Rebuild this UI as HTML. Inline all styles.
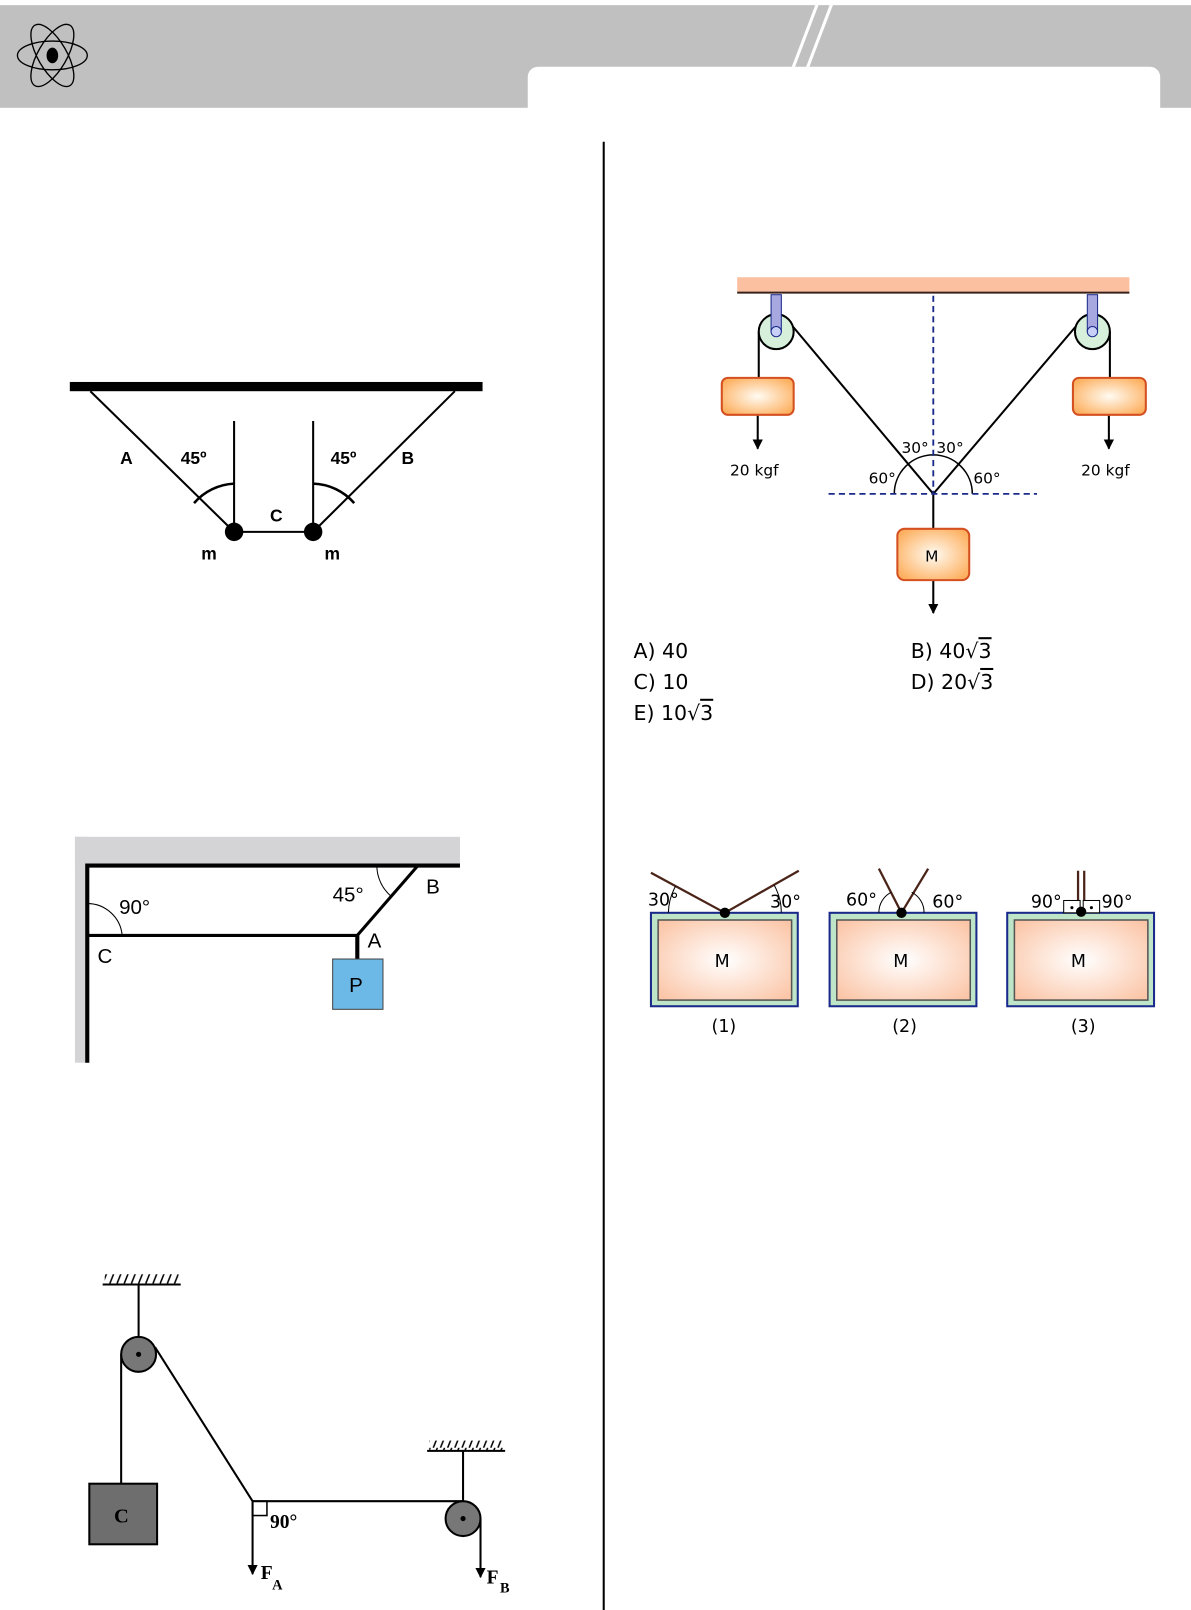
<!DOCTYPE html>
<html><head><meta charset="utf-8"><style>
html,body{margin:0;padding:0;background:#fff;}
svg{display:block;font-family:"DejaVu Sans","Liberation Sans",sans-serif;}
</style></head><body>
<svg width="1191" height="1610" viewBox="0 0 1160 1568" preserveAspectRatio="none" xmlns="http://www.w3.org/2000/svg">
<defs>
<radialGradient id="og" cx="50%" cy="50%" r="60%"><stop offset="0" stop-color="#fffbf2"/><stop offset="1" stop-color="#fdb060"/></radialGradient>
<radialGradient id="pg" cx="50%" cy="50%" r="65%"><stop offset="0" stop-color="#ffffff"/><stop offset="1" stop-color="#fbc6a8"/></radialGradient>
<marker id="ar" viewBox="0 0 10 10" refX="9" refY="5" markerWidth="5" markerHeight="5" orient="auto"><path d="M0,0 L10,5 L0,10 z" fill="#000"/></marker>
<pattern id="hatch" width="7" height="10" patternUnits="userSpaceOnUse"><line x1="6" y1="0" x2="2" y2="10" stroke="#000" stroke-width="1.5"/></pattern>
</defs>
<!-- header -->
<rect x="0" y="5" width="1160" height="100" fill="#c0c0c0"/>
<rect x="514" y="65" width="616" height="60" rx="10" fill="#fff"/>
<line x1="796" y1="4" x2="772" y2="67" stroke="#fff" stroke-width="3"/>
<line x1="810" y1="4" x2="786" y2="67" stroke="#fff" stroke-width="3"/>
<g transform="translate(51,54)" fill="none" stroke="#000" stroke-width="1.3">
<ellipse rx="34" ry="14"/><ellipse rx="34" ry="14" transform="rotate(60)"/><ellipse rx="34" ry="14" transform="rotate(-60)"/>
<ellipse rx="5" ry="7" fill="#000"/></g>
<line x1="588" y1="138" x2="588" y2="1568" stroke="#000" stroke-width="2"/>

<!-- diagram 1 -->
<rect x="68" y="372" width="402" height="9" fill="#000"/>
<g stroke="#000" stroke-width="2" fill="none">
<line x1="88" y1="381" x2="228" y2="518"/><line x1="443" y1="381" x2="305" y2="518"/>
<line x1="228" y1="410" x2="228" y2="518"/><line x1="305" y1="410" x2="305" y2="518"/>
<line x1="228" y1="518" x2="305" y2="518"/>
<path d="M189,490 A55,55 0 0 1 228,471" stroke-width="2.5"/>
<path d="M305,471 A55,55 0 0 1 345,490" stroke-width="2.5"/>
</g>
<circle cx="228" cy="518" r="9"/><circle cx="305" cy="518" r="9"/>
<g font-family="Liberation Sans" font-weight="bold" font-size="17" fill="#000">
<text x="117" y="452">A</text><text x="176" y="452">45º</text><text x="263" y="508">C</text>
<text x="322" y="452">45º</text><text x="391" y="452">B</text>
<text x="196" y="545">m</text><text x="316" y="545">m</text></g>

<!-- diagram 2 -->
<rect x="73" y="815" width="375" height="28" fill="#d4d4d6"/>
<rect x="73" y="815" width="12" height="220" fill="#d4d4d6"/>
<g stroke="#000" fill="none">
<line x1="85" y1="843" x2="448" y2="843" stroke-width="4"/>
<line x1="85" y1="841" x2="85" y2="1035" stroke-width="4"/>
<line x1="85" y1="911" x2="348" y2="911" stroke-width="3"/>
<line x1="348" y1="911" x2="407" y2="843" stroke-width="3"/>
<line x1="348" y1="911" x2="348" y2="934" stroke-width="4"/>
<path d="M85,880 A34,34 0 0 1 119,911" stroke-width="1"/>
<path d="M367,843 A40,40 0 0 0 381,873" stroke-width="1"/>
</g>
<rect x="324" y="934" width="49" height="49" fill="#6cb8e6" stroke="#444"/>
<g font-family="Liberation Sans" font-size="20" fill="#000">
<text x="116" y="890">90°</text><text x="324" y="878">45°</text><text x="415" y="870">B</text>
<text x="358" y="923">A</text><text x="95" y="938">C</text><text x="340" y="966">P</text></g>

<!-- diagram 3 -->
<rect x="102" y="1241" width="72" height="10" fill="url(#hatch)"/>
<line x1="100" y1="1251" x2="176" y2="1251" stroke="#000" stroke-width="2"/>
<rect x="418" y="1403" width="72" height="10" fill="url(#hatch)"/>
<line x1="416" y1="1413" x2="492" y2="1413" stroke="#000" stroke-width="2"/>
<g stroke="#000" stroke-width="2" fill="none">
<line x1="135" y1="1251" x2="135" y2="1319"/>
<line x1="118" y1="1319" x2="118" y2="1445"/>
<line x1="151" y1="1312" x2="246" y2="1462"/>
<line x1="246" y1="1462" x2="451" y2="1462"/>
<line x1="451" y1="1413" x2="451" y2="1479"/>
<line x1="246" y1="1462" x2="246" y2="1533" marker-end="url(#ar)"/>
<line x1="468" y1="1479" x2="468" y2="1536" marker-end="url(#ar)"/>
<rect x="246" y="1462" width="14" height="14" stroke-width="1.5"/>
</g>
<circle cx="135" cy="1319" r="17" fill="#777" stroke="#000" stroke-width="2"/><circle cx="135" cy="1319" r="2.5"/>
<circle cx="451" cy="1479" r="17" fill="#777" stroke="#000" stroke-width="2"/><circle cx="451" cy="1479" r="2.5"/>
<rect x="87" y="1445" width="66" height="59" fill="#6e6e6e" stroke="#000" stroke-width="2"/>
<g font-family="Liberation Serif" font-weight="bold" fill="#000">
<text x="111" y="1483" font-size="20">C</text><text x="263" y="1488" font-size="19">90°</text>
<text x="254" y="1538" font-size="19">F</text><text x="265" y="1548" font-size="14">A</text>
<text x="474" y="1542" font-size="19">F</text><text x="487" y="1551" font-size="14">B</text></g>

<!-- right top diagram -->
<rect x="718" y="270" width="382" height="14" fill="#fbc0a0"/>
<line x1="718" y1="285" x2="1100" y2="285" stroke="#3a2018" stroke-width="2"/>
<g stroke="#000" stroke-width="2" fill="none">
<line x1="739" y1="323" x2="739" y2="368"/><line x1="1081" y1="323" x2="1081" y2="368"/>
<line x1="738" y1="404" x2="738" y2="437" marker-end="url(#ar)"/>
<line x1="1080" y1="404" x2="1080" y2="437" marker-end="url(#ar)"/>
<line x1="768" y1="313" x2="909" y2="481"/><line x1="1052" y1="313" x2="909" y2="481"/>
<line x1="909" y1="481" x2="909" y2="515"/>
<line x1="909" y1="565" x2="909" y2="597" marker-end="url(#ar)"/>
<path d="M871,481 A38,38 0 0 1 947,481" stroke-width="1.5"/>
</g>
<g stroke="#1a2a8a" stroke-width="1.8" stroke-dasharray="6,4">
<line x1="909" y1="288" x2="909" y2="481"/><line x1="807" y1="481" x2="1010" y2="481"/></g>
<g>
<circle cx="756" cy="323" r="17" fill="#d6f0dc" stroke="#000" stroke-width="2"/>
<circle cx="1064" cy="323" r="17" fill="#d6f0dc" stroke="#000" stroke-width="2"/>
<rect x="751" y="287" width="10" height="36" fill="#a8a8e0" stroke="#1a2a8a"/>
<rect x="1059" y="287" width="10" height="36" fill="#a8a8e0" stroke="#1a2a8a"/>
<circle cx="756" cy="323" r="5" fill="#c8d0f8" stroke="#1a2a8a"/>
<circle cx="1064" cy="323" r="5" fill="#c8d0f8" stroke="#1a2a8a"/>
</g>
<rect x="703" y="368" width="70" height="36" rx="6" fill="url(#og)" stroke="#d45020" stroke-width="2"/>
<rect x="1045" y="368" width="71" height="36" rx="6" fill="url(#og)" stroke="#d45020" stroke-width="2"/>
<rect x="874" y="515" width="70" height="50" rx="7" fill="url(#og)" stroke="#d45020" stroke-width="2"/>
<g font-size="15" fill="#000">
<text x="711" y="463">20 kgf</text><text x="1053" y="463">20 kgf</text>
<text x="878" y="441">30°</text><text x="912" y="441">30°</text>
<text x="846" y="471">60°</text><text x="948" y="471">60°</text>
<text x="901" y="547">M</text></g>

<!-- answers -->
<g font-size="20" fill="#000">
<text x="617" y="641">A) 40</text>
<text x="617" y="671">C) 10</text>
<text x="617" y="701">E)  10√<tspan text-decoration="overline">3</tspan></text>
<text x="887" y="641">B)  40√<tspan text-decoration="overline">3</tspan></text>
<text x="887" y="671">D)  20√<tspan text-decoration="overline">3</tspan></text>
</g>

<!-- three boxes -->
<g>
<rect x="634" y="889" width="143" height="91" fill="#bfe5c8" stroke="#1a2a8a" stroke-width="2"/>
<rect x="641" y="896" width="130" height="78" fill="url(#pg)" stroke="#555" stroke-width="1.5"/>
<rect x="808" y="889" width="143" height="91" fill="#bfe5c8" stroke="#1a2a8a" stroke-width="2"/>
<rect x="815" y="896" width="130" height="78" fill="url(#pg)" stroke="#555" stroke-width="1.5"/>
<rect x="981" y="889" width="143" height="91" fill="#bfe5c8" stroke="#1a2a8a" stroke-width="2"/>
<rect x="988" y="896" width="130" height="78" fill="url(#pg)" stroke="#555" stroke-width="1.5"/>
</g>
<g stroke="#4a2418" stroke-width="2.2" fill="none">
<line x1="706" y1="889" x2="634" y2="850"/><line x1="706" y1="889" x2="778" y2="848"/>
<line x1="878" y1="889" x2="856" y2="846"/><line x1="878" y1="889" x2="904" y2="846"/>
<line x1="1050" y1="848" x2="1050" y2="889"/><line x1="1056" y1="848" x2="1056" y2="889"/>
</g>
<g stroke="#000" stroke-width="1" fill="none">
<path d="M651,889 A55,55 0 0 1 658,863"/><path d="M754,862 A55,55 0 0 1 761,889"/>
<path d="M856,889 A22,22 0 0 1 868,869"/>
<path d="M888,869 A22,22 0 0 1 900,889"/>
<rect x="1036" y="877" width="16" height="12" fill="#fff"/><rect x="1055" y="877" width="16" height="12" fill="#fff"/>
</g>
<circle cx="1044" cy="884" r="1.5"/><circle cx="1063" cy="884" r="1.5"/>
<circle cx="706" cy="889" r="5"/><circle cx="878" cy="889" r="5"/><circle cx="1053" cy="888" r="5"/>
<g font-size="17" fill="#000">
<text x="631" y="882">30°</text><text x="750" y="884">30°</text>
<text x="824" y="882">60°</text><text x="908" y="884">60°</text>
<text x="1004" y="884">90°</text><text x="1073" y="884">90°</text>
<text x="696" y="942">M</text><text x="870" y="942">M</text><text x="1043" y="942">M</text>
<text x="693" y="1005">(1)</text><text x="869" y="1005">(2)</text><text x="1043" y="1005">(3)</text>
</g>
</svg>
</body></html>
